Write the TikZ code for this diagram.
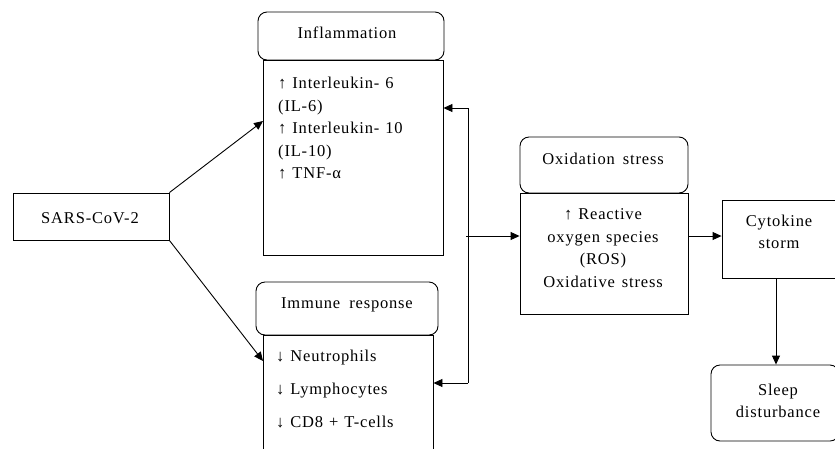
\documentclass[tikz,border=0pt]{standalone}
\usepackage{fontspec}
\setmainfont{Liberation Serif}[LetterSpace=5,WordSpace=1.2]
\usetikzlibrary{arrows.meta}
\begin{document}
\begin{tikzpicture}[x=1pt,y=-1pt,
  box/.style={draw, line width=0.9pt, inner sep=0pt, minimum width=#1},
  rbox/.style={box=#1, rounded corners=9pt},
  txt/.style={inner sep=0pt, font=\fontsize{16.5}{22.5}\selectfont},
  arr/.style={line width=0.9pt, -{Triangle[length=9pt,width=8pt]}},
  ln/.style={line width=0.9pt}]
\useasboundingbox (0,0) rectangle (835,448);
\clip (0,0) rectangle (835,448);
\fill[white] (0,0) rectangle (835,448);

% SARS-CoV-2
\node[box=156pt, minimum height=47pt] (sars) at (91,216.5) {};
\node[txt] (sarsT) at (90,218) {SARS-CoV-2};

% Inflammation
\node[rbox=186pt, minimum height=48pt] (inflH) at (351,36) {};
\node[txt] (inflHT) at (347,33) {Inflammation};
\node[box=180pt, minimum height=195pt] (inflB) at (353,157.5) {};
\node[txt, anchor=north west, align=left] (inflBT) at (278,77)
  {↑ Interleukin- 6\\(IL-6)\\↑ Interleukin- 10\\(IL-10)\\↑ TNF-α};

% Immune response
\node[rbox=182pt, minimum height=53pt] (immH) at (347,308.5) {};
\node[txt] (immHT) at (347,305) {Immune\hspace{9pt}response};
\node[box=170pt, minimum height=140pt] (immB) at (348,405) {};
\node[txt, anchor=north west, align=left, font=\fontsize{16.5}{33}\selectfont] (immBT) at (276,350)
  {↓ Neutrophils\\↓ Lymphocytes\\↓ CD8 + T-cells};

% Oxidation stress
\node[rbox=168pt, minimum height=56pt] (oxH) at (604,165) {};
\node[txt] (oxHT) at (603,159) {Oxidation\hspace{8pt}stress};
\node[box=168pt, minimum height=121pt] (oxB) at (604,253.5) {};
\node[txt, align=center] (oxBT) at (603,248)
  {↑ Reactive\\oxygen species\\(ROS)\\Oxidative\hspace{7pt}stress};

% Cytokine storm
\node[box=116pt, minimum height=78pt] (cyt) at (780,239) {};
\node[txt, align=center] (cytT) at (779,232) {Cytokine\\storm};

% Sleep disturbance
\node[rbox=128pt, minimum height=76pt] (sleep) at (775,403) {};
\node[txt, align=center] (sleepT) at (778,401) {Sleep\\disturbance};

% junction coordinates
\coordinate (jt) at (468,108);
\coordinate (jb) at (468,383);
\coordinate (jm) at (466,236);

% connectors
\draw[arr] (sars.north east) -- (263,121);
\draw[arr] (sars.south east) -- (263,361);
\draw[ln] (jt) -- (jb);
\draw[arr] (jt) -- (inflB.east |- jt);
\draw[arr] (jb) -- (immB.east |- jb);
\draw[arr] (jm) -- (oxB.west |- jm);
\draw[arr] (oxB.east |- jm) -- (cyt.west |- jm);
\draw[arr] (cyt.south -| 776,0) -- (sleep.north -| 776,0);
\end{tikzpicture}
\end{document}
